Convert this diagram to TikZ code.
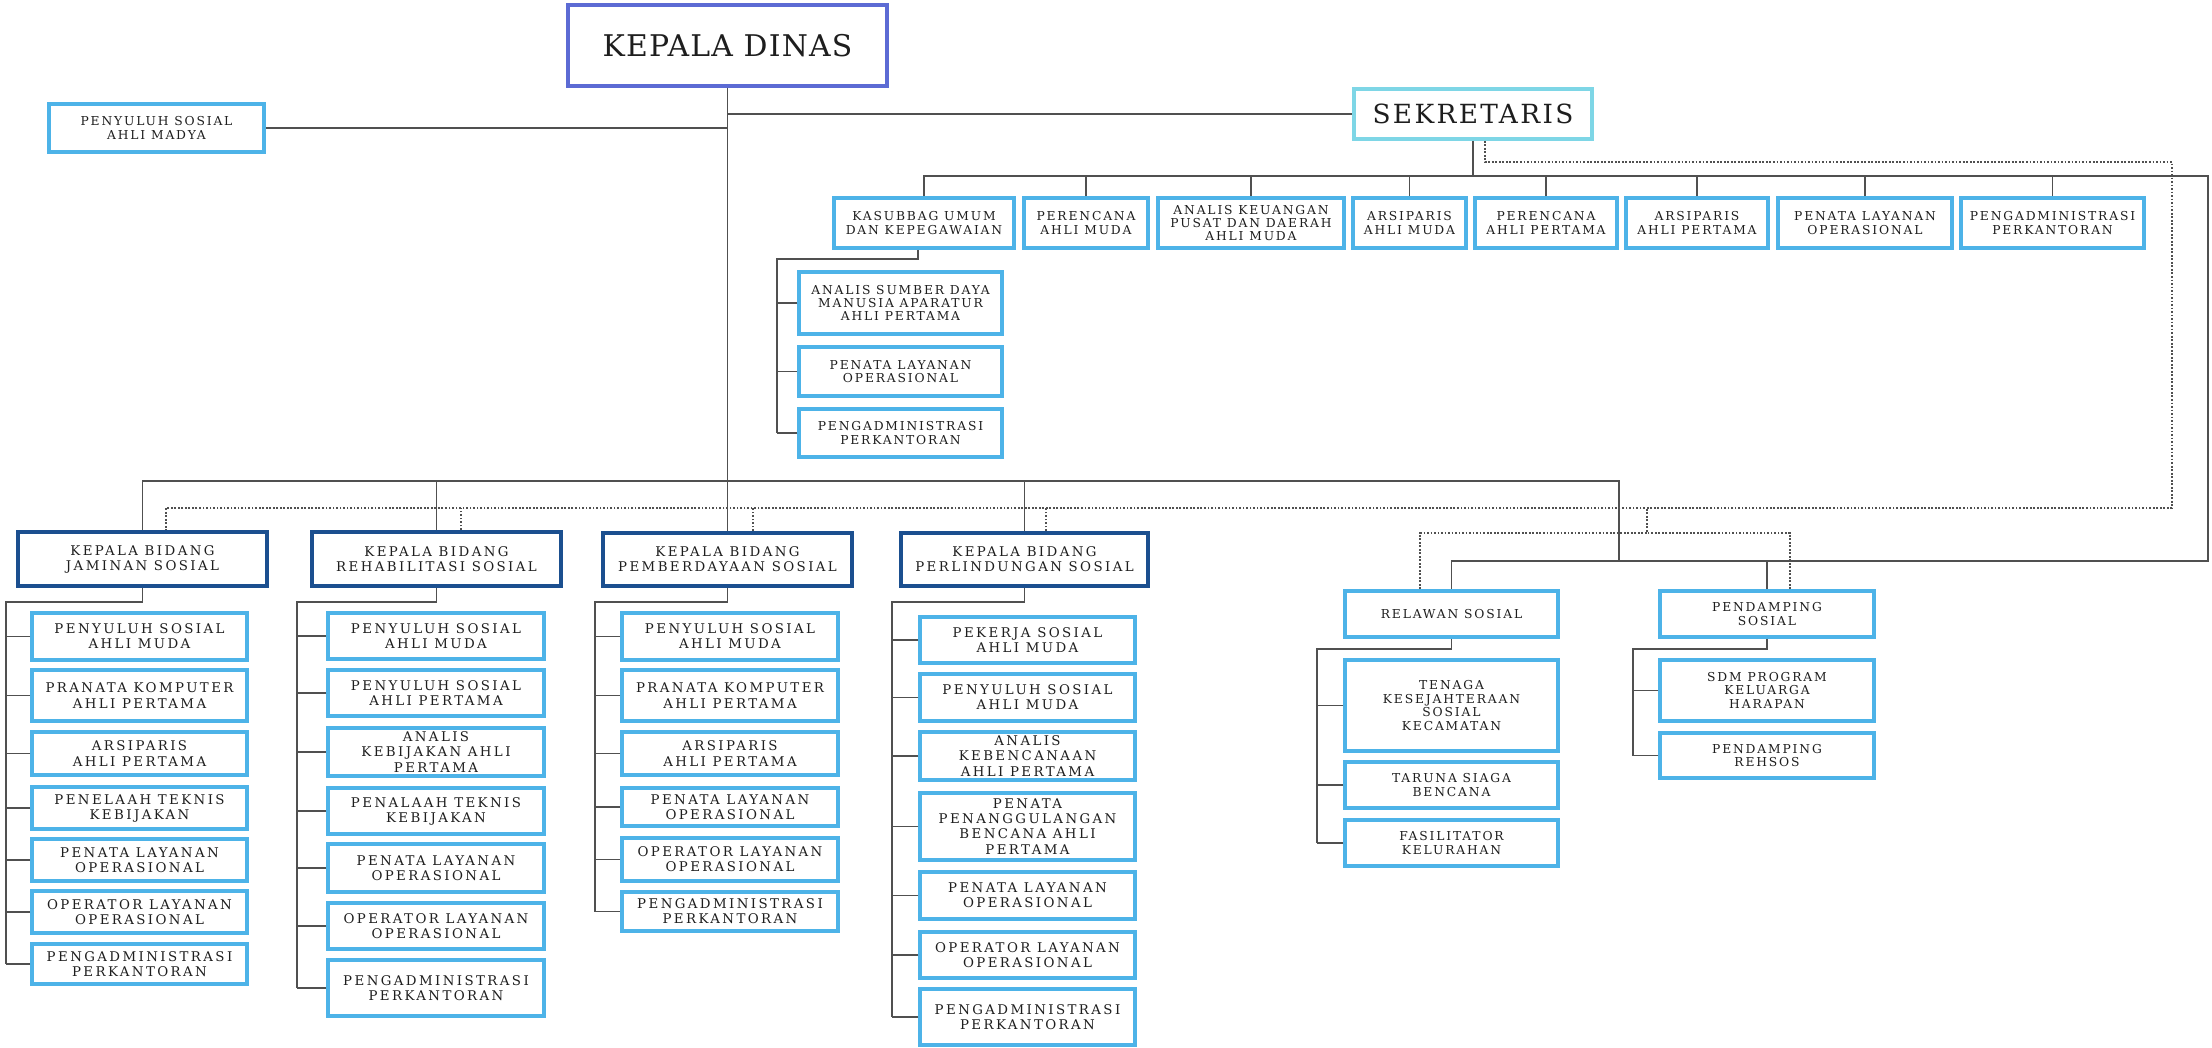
\documentclass[tikz,border=0pt]{standalone}
\usepackage{fontspec}
\setmainfont{DejaVu Serif}
\newfontfamily\wfont[LetterSpace=18]{DejaVu Serif}
\newfontfamily\tfont[LetterSpace=15]{DejaVu Serif}
\newfontfamily\kfont[LetterSpace=4]{DejaVu Serif}
\newfontfamily\sekfont[LetterSpace=9]{DejaVu Serif}
\definecolor{cb}{HTML}{4DB3E8}
\definecolor{hb}{HTML}{1B4F8F}
\definecolor{kdc}{HTML}{5C6BD4}
\definecolor{sekc}{HTML}{7ED6E6}
\definecolor{lg}{HTML}{505050}
\definecolor{tx}{HTML}{1E1E1E}
\newcommand\obox[7]{\node[#2, minimum width={(#5-#3-2)*0.02cm}, minimum height={(#6-#4-2)*0.02cm}] (#1) at ({(#3+#5)/2},{(#4+#6)/2}) {#7};}
\begin{document}
\begin{tikzpicture}[x=0.02cm,y=-0.02cm,
  conn/.style={draw=lg, line width=0.95pt},
  dotc/.style={draw=lg, line width=0.8pt, dash pattern=on 1pt off 1pt},
  base/.style={draw, fill=white, rectangle, inner sep=1pt, align=center, text=tx},
  cbox/.style={base, draw=cb, line width=2pt, font=\wfont\fontsize{7.6}{8.6}\selectfont},
  tbox/.style={base, draw=cb, line width=2pt, font=\tfont\fontsize{7}{7.6}\selectfont},
  hbox/.style={base, draw=hb, line width=2.4pt, font=\wfont\fontsize{7.6}{8.6}\selectfont},
  kdbox/.style={base, draw=kdc, line width=1.9pt, font=\kfont\fontsize{17}{20}\selectfont},
  sekbox/.style={base, draw=sekc, line width=2pt, font=\sekfont\fontsize{15}{18}\selectfont}]
\useasboundingbox (0,0) rectangle (2212,1048);
% top
\obox{kd}{kdbox}{567}{4}{888}{87}{KEPALA DINAS}
\obox{pm}{tbox}{48}{103}{265}{153}{PENYULUH SOSIAL\\AHLI MADYA}
\obox{sek}{sekbox}{1353}{88}{1593}{140}{SEKRETARIS}
% sekretariat row
\obox{kasub}{tbox}{833}{197}{1015}{249}{KASUBBAG UMUM\\DAN KEPEGAWAIAN}
\obox{per1}{tbox}{1023}{197}{1149}{249}{PERENCANA\\AHLI MUDA}
\obox{ank}{tbox}{1157}{197}{1345}{249}{ANALIS KEUANGAN\\PUSAT DAN DAERAH\\AHLI MUDA}
\obox{ars1}{tbox}{1352}{197}{1467}{249}{ARSIPARIS\\AHLI MUDA}
\obox{per2}{tbox}{1474}{197}{1618}{249}{PERENCANA\\AHLI PERTAMA}
\obox{ars2}{tbox}{1625}{197}{1769}{249}{ARSIPARIS\\AHLI PERTAMA}
\obox{pen1}{tbox}{1777}{197}{1953}{249}{PENATA LAYANAN\\OPERASIONAL}
\obox{peng1}{tbox}{1960}{197}{2145}{249}{PENGADMINISTRASI\\PERKANTORAN}
% kasubbag children
\obox{asd}{tbox}{798}{271}{1003}{335}{ANALIS SUMBER DAYA\\MANUSIA APARATUR\\AHLI PERTAMA}
\obox{pen2}{tbox}{798}{346}{1003}{397}{PENATA LAYANAN\\OPERASIONAL}
\obox{peng2}{tbox}{798}{408}{1003}{458}{PENGADMINISTRASI\\PERKANTORAN}
% bidang heads
\obox{jam}{hbox}{17}{531}{268}{587}{KEPALA BIDANG\\JAMINAN SOSIAL}
\obox{reh}{hbox}{311}{531}{562}{587}{KEPALA BIDANG\\REHABILITASI SOSIAL}
\obox{pem}{hbox}{602}{532}{853}{587}{KEPALA BIDANG\\PEMBERDAYAAN SOSIAL}
\obox{per}{hbox}{900}{532}{1149}{587}{KEPALA BIDANG\\PERLINDUNGAN SOSIAL}
% jaminan
\obox{j1}{cbox}{31}{612}{248}{661}{PENYULUH SOSIAL\\AHLI MUDA}
\obox{j2}{cbox}{31}{669}{248}{722}{PRANATA KOMPUTER\\AHLI PERTAMA}
\obox{j3}{cbox}{31}{731}{248}{776}{ARSIPARIS\\AHLI PERTAMA}
\obox{j4}{cbox}{31}{786}{248}{830}{PENELAAH TEKNIS\\KEBIJAKAN}
\obox{j5}{cbox}{31}{838}{248}{882}{PENATA LAYANAN\\OPERASIONAL}
\obox{j6}{cbox}{31}{890}{248}{934}{OPERATOR LAYANAN\\OPERASIONAL}
\obox{j7}{cbox}{31}{943}{248}{985}{PENGADMINISTRASI\\PERKANTORAN}
% rehabilitasi
\obox{r1}{cbox}{327}{612}{545}{660}{PENYULUH SOSIAL\\AHLI MUDA}
\obox{r2}{cbox}{327}{669}{545}{717}{PENYULUH SOSIAL\\AHLI PERTAMA}
\obox{r3}{cbox}{327}{727}{545}{777}{ANALIS\\KEBIJAKAN AHLI\\PERTAMA}
\obox{r4}{cbox}{327}{787}{545}{835}{PENALAAH TEKNIS\\KEBIJAKAN}
\obox{r5}{cbox}{327}{843}{545}{893}{PENATA LAYANAN\\OPERASIONAL}
\obox{r6}{cbox}{327}{902}{545}{950}{OPERATOR LAYANAN\\OPERASIONAL}
\obox{r7}{cbox}{327}{959}{545}{1017}{PENGADMINISTRASI\\PERKANTORAN}
% pemberdayaan
\obox{p1}{cbox}{621}{612}{839}{661}{PENYULUH SOSIAL\\AHLI MUDA}
\obox{p2}{cbox}{621}{669}{839}{722}{PRANATA KOMPUTER\\AHLI PERTAMA}
\obox{p3}{cbox}{621}{731}{839}{776}{ARSIPARIS\\AHLI PERTAMA}
\obox{p4}{cbox}{621}{787}{839}{827}{PENATA LAYANAN\\OPERASIONAL}
\obox{p5}{cbox}{621}{837}{839}{882}{OPERATOR LAYANAN\\OPERASIONAL}
\obox{p6}{cbox}{621}{891}{839}{932}{PENGADMINISTRASI\\PERKANTORAN}
% perlindungan
\obox{q1}{cbox}{919}{616}{1136}{664}{PEKERJA SOSIAL\\AHLI MUDA}
\obox{q2}{cbox}{919}{673}{1136}{722}{PENYULUH SOSIAL\\AHLI MUDA}
\obox{q3}{cbox}{919}{731}{1136}{781}{ANALIS\\KEBENCANAAN\\AHLI PERTAMA}
\obox{q4}{cbox}{919}{792}{1136}{861}{PENATA\\PENANGGULANGAN\\BENCANA AHLI\\PERTAMA}
\obox{q5}{cbox}{919}{871}{1136}{920}{PENATA LAYANAN\\OPERASIONAL}
\obox{q6}{cbox}{919}{931}{1136}{979}{OPERATOR LAYANAN\\OPERASIONAL}
\obox{q7}{cbox}{919}{988}{1136}{1046}{PENGADMINISTRASI\\PERKANTORAN}
% right side
\obox{rel}{tbox}{1344}{590}{1559}{638}{RELAWAN SOSIAL}
\obox{pend}{tbox}{1659}{590}{1875}{638}{PENDAMPING\\SOSIAL}
\obox{tks}{tbox}{1344}{659}{1559}{752}{TENAGA\\KESEJAHTERAAN\\SOSIAL\\KECAMATAN}
\obox{tsb}{tbox}{1344}{761}{1559}{809}{TARUNA SIAGA\\BENCANA}
\obox{fas}{tbox}{1344}{819}{1559}{867}{FASILITATOR\\KELURAHAN}
\obox{sdm}{tbox}{1659}{659}{1875}{722}{SDM PROGRAM\\KELUARGA\\HARAPAN}
\obox{rehsos}{tbox}{1659}{732}{1875}{779}{PENDAMPING\\REHSOS}
% solid connectors
\draw[conn] (kd.south) -- (pem.north);
\draw[conn] (kd.south |- sek.west) -- (sek.west);
\draw[conn] (pm.east) -- (kd.south |- pm.east);
\draw[conn] (sek.south) -- (sek.south |- 0,176);
\draw[conn] (kasub.north) |- (2208,176) -- (2208,561) -| (rel.north);
\foreach \n in {per1,ank,ars1,per2,ars2,pen1,peng1} \draw[conn] (\n.north) -- (\n.north |- 0,176);
\draw[conn] (pend.north) -- (pend.north |- 0,561);
\draw[conn] (jam.north) |- (1619,481) -- (1619,561);
\foreach \n in {reh,per} \draw[conn] (\n.north) -- (\n.north |- 0,481);
% kasubbag bracket
\draw[conn] ([xshift=-0.12cm]kasub.south) -- ++(0,9) -| (peng2.west -| 777,0);
\foreach \n in {asd,pen2,peng2} \draw[conn] (\n.west) -- (\n.west -| 777,0);
% bidang brackets
\draw[conn] (jam.south) -- (jam.south |- 0,602) -| (j7.west -| 6,0);
\foreach \n in {j1,j2,j3,j4,j5,j6,j7} \draw[conn] (\n.west) -- (\n.west -| 6,0);
\draw[conn] (reh.south) -- (reh.south |- 0,602) -| (r7.west -| 297,0);
\foreach \n in {r1,r2,r3,r4,r5,r6,r7} \draw[conn] (\n.west) -- (\n.west -| 297,0);
\draw[conn] (pem.south) -- (pem.south |- 0,602) -| (p6.west -| 595,0);
\foreach \n in {p1,p2,p3,p4,p5,p6} \draw[conn] (\n.west) -- (\n.west -| 595,0);
\draw[conn] (per.south) -- (per.south |- 0,602) -| (q7.west -| 892,0);
\foreach \n in {q1,q2,q3,q4,q5,q6,q7} \draw[conn] (\n.west) -- (\n.west -| 892,0);
% right brackets
\draw[conn] (rel.south) -- (rel.south |- 0,649) -| (fas.west -| 1317,0);
\foreach \n in {tks,tsb,fas} \draw[conn] (\n.west) -- (\n.west -| 1317,0);
\draw[conn] (pend.south) -- (pend.south |- 0,649) -| (rehsos.west -| 1633,0);
\foreach \n in {sdm,rehsos} \draw[conn] (\n.west) -- (\n.west -| 1633,0);
% dotted connectors
\draw[dotc] ([xshift=0.24cm]sek.south) |- (2172,162) -- (2172,508) -| ([xshift=0.47cm]jam.north);
\draw[dotc] ([xshift=0.49cm]reh.north) -- ([xshift=0.49cm]reh.north |- 0,508);
\draw[dotc] ([xshift=0.51cm]pem.north) -- ([xshift=0.51cm]pem.north |- 0,508);
\draw[dotc] ([xshift=0.43cm]per.north) -- ([xshift=0.43cm]per.north |- 0,508);
\draw[dotc] ([xshift=-0.63cm]rel.north) |- (1647,533) -- (1647,508);
\draw[dotc] ([xshift=0.46cm]pend.north) |- (1647,533);
\end{tikzpicture}
\end{document}
